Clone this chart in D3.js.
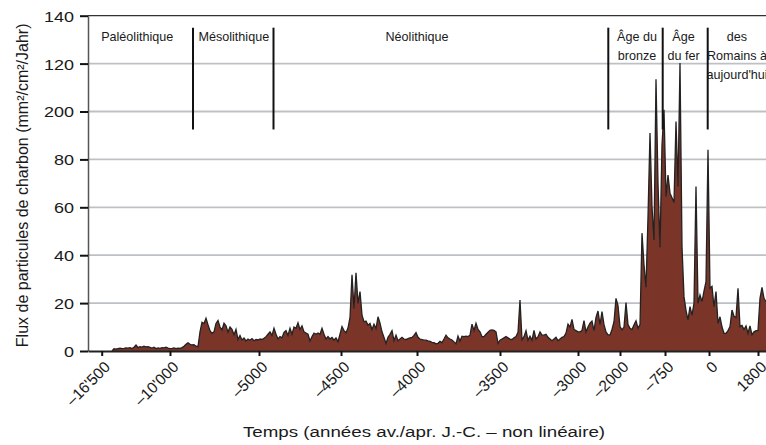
<!DOCTYPE html>
<html><head><meta charset="utf-8">
<script src="https://cdn.jsdelivr.net/npm/d3@7"></script>
<style>
body{margin:0;background:#fff}
svg{display:block}
text{font-family:"Liberation Sans",Arial,Helvetica,sans-serif;fill:#1a1a1a}
</style>
</head><body>
<svg id="c" width="766" height="445"></svg>
<script>
// ---- data ----
// samples plotted by sample number (non-linear time axis); first sample is sample #12
const sampleStart = 12;
const flux = [
 0,1.0,0.8,1.0,1.2,1.0,1.1,1.3,1.2,1.4,1.0,1.6,2.5,1.4,1.8,1.6,2.0,1.7,1.8,1.5,1.2,1.6,1.0,1.3,1.1,1.4,1.3,1.6,1.2,1.0,1.1,1.3,1.0,1.2,1.1,1.4,2.0,2.8,3.4,2.8,2.5,2.6,2.0,1.8,
 8,12.0,11.5,13.7,11.0,8.5,7.4,8.0,11.5,12.7,10.0,8.8,11.6,10.5,7.9,10.0,9.0,6.8,9.0,4.8,6.5,4.6,5.4,4.2,5.0,4.5,5.2,4.3,4.8,4.6,5.0,4.8,5.3,6.0,7.0,8.0,6.5,9.5,7.0,5.0,6.0,5.5,7.8,8.5,6.5,9.5,7.0,10.0,9.5,11.8,
 9.0,10.5,8.0,7.5,7.0,4.2,6.0,7.5,7.0,7.5,7.0,9.5,7.0,5.0,6.0,5.0,5.7,4.5,5.5,3.9,7.0,10.2,8.5,7.6,9.6,14.0,31.8,17.8,32.7,19.9,24.8,15.0,12.2,12.5,10.8,11.5,9.0,11.2,9.4,14.3,11.6,8.0,5.7,3.2,5.7,7.0,8.5,4.3,6.6,4.3,
 5.0,5.7,5.0,4.8,5.2,5.5,5.7,6.5,7.7,5.7,5.0,4.8,4.5,4.5,4.2,4.0,3.6,3.5,3.0,3.2,4.0,3.5,5.0,6.6,5.5,5.0,4.6,3.8,3.0,6.2,4.2,6.2,6.0,6.2,6.0,6.6,11.2,8.6,11.6,9.0,8.0,6.0,6.0,7.0,7.8,8.6,8.8,8.6,8.0,3.2,
 4.5,5.0,5.5,6.0,5.5,5.0,4.8,5.5,6.0,7.8,21.3,4.7,6.0,8.5,4.5,6.2,4.5,8.6,5.0,6.0,8.0,6.6,6.6,7.0,5.7,5.0,4.3,5.0,5.7,4.3,5.0,5.7,6.0,7.5,11.2,10.0,13.2,9.0,8.5,8.0,8.0,8.6,12.7,8.0,10.0,11.6,12.5,8.5,14.0,16.7,
 11.0,16.4,11.0,8.0,6.7,6.7,9.0,12.2,22.0,19.0,10.2,8.8,10.0,20.2,11.0,9.5,9.0,11.0,12.6,9.5,11.0,49.2,36.0,26.6,56.0,91.0,60.3,46.4,113.5,70.0,43.3,86.0,100.7,64.5,73.5,65.9,64.0,62.0,95.8,68.7,120.2,43.6,22.7,17.0,13.0,18.5,15.0,19.9,68.7,19.9,
 23.4,20.6,25.0,29.0,84.0,26.2,27.0,18.5,24.8,11.6,14.3,10.0,7.4,7.4,8.5,10.2,17.1,14.5,14.0,26.2,10.2,10.7,9.0,10.5,7.4,10.5,6.7,8.0,8.5,8.5,22.0,26.6,22.0,20.6
];
const yTickValues = [0,20,40,60,80,100,120,140];
const yTickLabels = ['0','20','40','60','80','200','120','140'];
const xTickLabels = ['\u201316\'500','\u201310\'000','\u20135000','\u20134500','\u20134000','\u20133500','\u20133000','\u20132000','\u2013750','0','1800'];
const xTickSample = [6.85,41,85.5,126.5,164.5,206,245,266,288.5,310.5,335];
const periodNames = [['Paléolithique'],['Mésolithique'],['Néolithique'],['Âge du','bronze'],['Âge','du fer'],['des','Romains à','aujourd\'hui']];
const periodCenters = [24.6,72.9,164.5,274.5,297.75,324.5];
const periodBounds = [52.5,92.75,260.15,287.35,309.85];
const boundRange = [135,92.5];
const yTitle = 'Flux de particules de charbon (mm\u00b2/cm\u00b2/Jahr)';
const xTitle = 'Temps (années av./apr. J.-C. \u2013 non linéaire)';

// ---- drawing ----
const svg = d3.select('#c');
const L = 88, R = 766, B = 351, T = 15.7;
const x = d3.scaleLinear().domain([0, 339]).range([L, R]);
const y = d3.scaleLinear().domain([0, 140]).range([B, T]);

// grid
svg.append('g').selectAll('line')
  .data(yTickValues.filter(v => v > 0 && v < 140)).join('line')
  .attr('x1', L).attr('x2', R).attr('y1', d => y(d)).attr('y2', d => y(d))
  .attr('stroke', '#bdc1c5').attr('stroke-width', 1.8);

// area + outline
const area = d3.area().x((d, i) => x(sampleStart + i)).y0(y(0)).y1(d => y(d));
const line = d3.line().x((d, i) => x(sampleStart + i)).y(d => y(d));
svg.append('path').datum(flux).attr('d', area).attr('fill', '#7a3428');
svg.append('path').datum(flux).attr('d', line).attr('fill', 'none')
  .attr('stroke', '#222').attr('stroke-width', 1.3);

// top border
svg.append('line').attr('x1', L).attr('x2', R).attr('y1', y(140)).attr('y2', y(140))
  .attr('stroke', '#333').attr('stroke-width', 1.2);

// y axis
const gy = svg.append('g').attr('transform', `translate(${L},0)`)
  .call(d3.axisLeft(y).tickValues(yTickValues).tickFormat((d, i) => yTickLabels[i]).tickSize(8).tickSizeOuter(0));
gy.select('.domain').attr('stroke', '#555').attr('stroke-width', 1.5);
gy.selectAll('.tick line').attr('stroke', '#111').attr('stroke-width', 2);
gy.selectAll('.tick text').attr('font-size', 15).attr('x', 0).attr('dy', '0.36em')
  .attr('transform', 'translate(-14,0) scale(1.2,1)').attr('fill', '#1a1a1a')
  .style('font-family', '"Liberation Sans",Arial,sans-serif');

// x axis
const gx = svg.append('g').attr('transform', `translate(0,${B})`)
  .call(d3.axisBottom(x).tickValues(xTickSample).tickFormat((d, i) => xTickLabels[i]).tickSize(5).tickSizeOuter(0));
gx.select('.domain').attr('stroke', '#222').attr('stroke-width', 2);
gx.selectAll('.tick line').attr('stroke', '#111').attr('stroke-width', 2);
gx.selectAll('.tick text').attr('font-size', 15.5).attr('x', 0).attr('y', 0).attr('dy', 0)
  .attr('text-anchor', 'end').attr('transform', 'translate(9,17) rotate(-45)').attr('fill', '#1a1a1a')
  .style('font-family', '"Liberation Sans",Arial,sans-serif');

// period separators
svg.append('g').selectAll('line').data(periodBounds).join('line')
  .attr('x1', d => x(d)).attr('x2', d => x(d)).attr('y1', y(boundRange[0])).attr('y2', y(boundRange[1]))
  .attr('stroke', '#111').attr('stroke-width', 2);

// period labels
const pg = svg.append('g').selectAll('text').data(periodNames).join('text')
  .attr('text-anchor', 'middle').attr('font-size', 12)
  .attr('transform', (d, i) => `translate(${x(periodCenters[i])},41) scale(1.05,1)`);
pg.selectAll('tspan').data(d => d).join('tspan')
  .attr('x', 0).attr('y', (d, k) => k * 19).text(d => d);

// titles
svg.append('text').attr('text-anchor', 'middle').attr('font-size', 16)
  .attr('transform', `translate(28,${(B + T) / 2 + 2}) rotate(-90)`).text(yTitle);
svg.append('text').attr('text-anchor', 'middle').attr('font-size', 15)
  .attr('transform', `translate(424,437) scale(1.25,1)`).text(xTitle);
</script>
</body></html>
